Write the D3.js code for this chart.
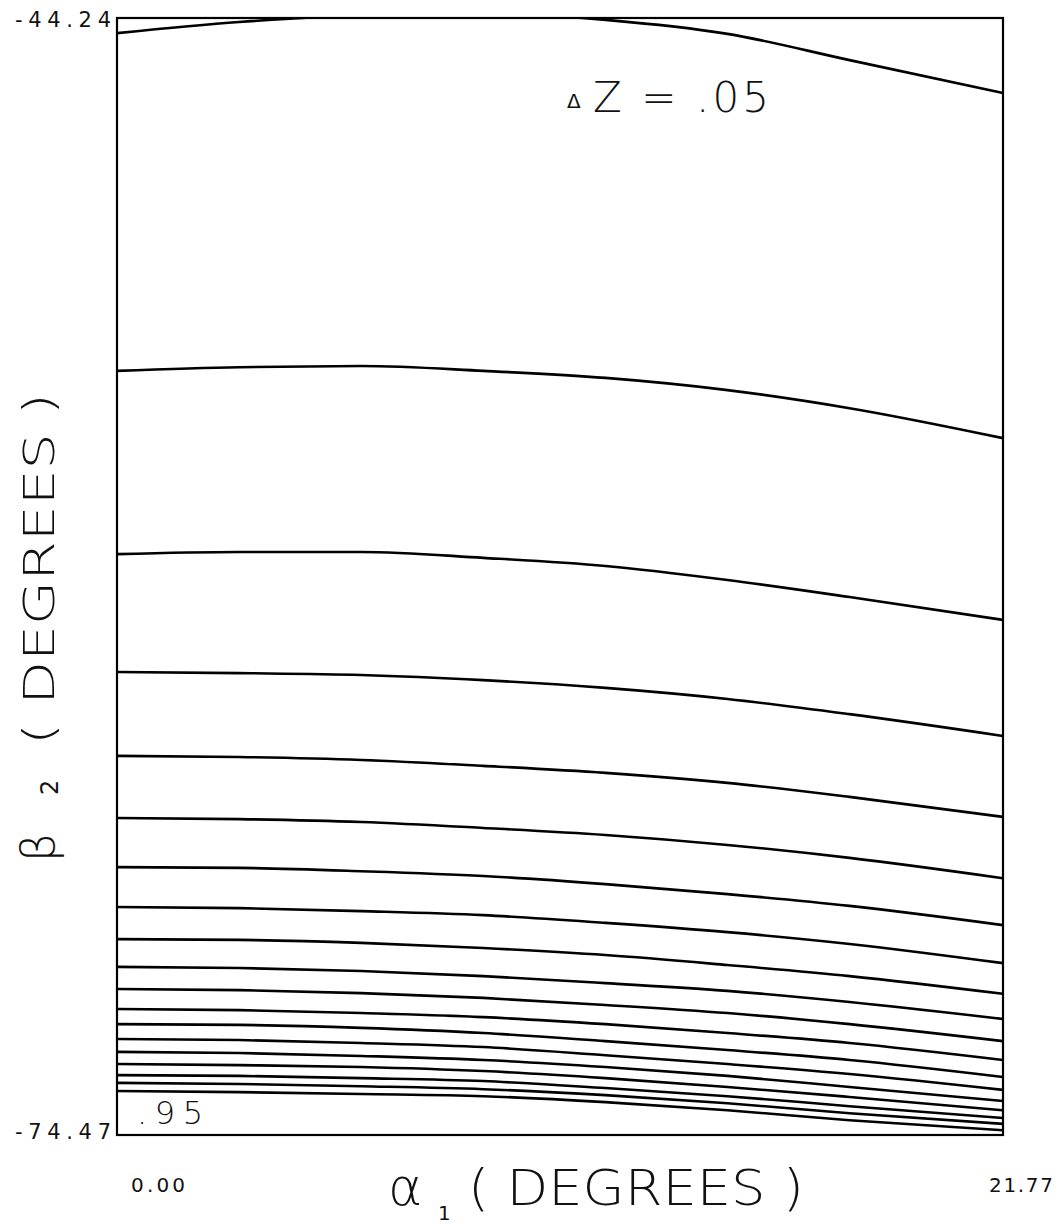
<!DOCTYPE html>
<html>
<head>
<meta charset="utf-8">
<script src="https://cdn.jsdelivr.net/npm/d3@7"></script>
<style>
  html, body { margin: 0; padding: 0; background: #fff; }
  svg { display: block; }
  text { font-family: "DejaVu Sans", "Roboto", sans-serif; fill: #111; }
</style>
</head>
<body>
<svg id="chart" width="1058" height="1226"></svg>
<script>
// ---- data ----
const alphaDeg = [0, 3, 6, 9, 12, 15, 18, 21.77];          // alpha_1 sample positions (degrees)
const xRange = [0, 21.77];
const yRange = [-74.47, -44.24];
const xTickLabels = ["0.00", "21.77"];
const yTickLabels = ["-44.24", "-74.47"];
const zLevels = [0.05, 0.10, 0.15, 0.20, 0.25, 0.30, 0.35, 0.40, 0.45, 0.50,
                 0.55, 0.60, 0.65, 0.70, 0.75, 0.80, 0.85, 0.90, 0.95];

// beta_2 (degrees) of each contour at the alphaDeg positions
const contour05 = [-44.65, -44.35, -44.16, -44.10, -44.29, -44.67, -45.38, -46.27];
const contour10 = [-53.79, -53.69, -53.66, -53.79, -53.98, -54.31, -54.80, -55.61];
const contour15 = [-58.75, -58.69, -58.69, -58.85, -59.07, -59.45, -59.91, -60.53];
const contour20 = [-61.94, -61.97, -62.02, -62.16, -62.37, -62.67, -63.08, -63.67];
const contour25 = [-64.21, -64.24, -64.32, -64.48, -64.67, -64.94, -65.32, -65.86];
const contour30 = [-65.89, -65.92, -66.00, -66.16, -66.35, -66.62, -66.97, -67.52];
const contour35 = [-67.22, -67.24, -67.33, -67.46, -67.68, -67.95, -68.27, -68.79];
const contour40 = [-68.30, -68.33, -68.41, -68.52, -68.73, -68.98, -69.30, -69.82];
const contour45 = [-69.17, -69.19, -69.27, -69.41, -69.60, -69.87, -70.17, -70.65];
const contour50 = [-69.92, -69.95, -70.03, -70.17, -70.36, -70.57, -70.87, -71.33];
const contour55 = [-70.52, -70.55, -70.63, -70.76, -70.95, -71.17, -71.47, -71.93];
const contour60 = [-71.06, -71.09, -71.17, -71.28, -71.47, -71.71, -71.98, -72.44];
const contour65 = [-71.47, -71.49, -71.57, -71.71, -71.93, -72.17, -72.44, -72.90];
const contour70 = [-71.87, -71.90, -71.98, -72.09, -72.31, -72.55, -72.82, -73.25];
const contour75 = [-72.22, -72.25, -72.33, -72.44, -72.63, -72.87, -73.17, -73.55];
const contour80 = [-72.55, -72.58, -72.63, -72.74, -72.93, -73.17, -73.44, -73.80];
const contour85 = [-72.85, -72.87, -72.93, -73.01, -73.20, -73.42, -73.69, -74.01];
const contour90 = [-73.06, -73.09, -73.15, -73.23, -73.39, -73.61, -73.88, -74.17];
const contour95 = [-73.28, -73.31, -73.36, -73.42, -73.58, -73.80, -74.07, -74.34];

const contourSeries = [contour05, contour10, contour15, contour20, contour25, contour30,
  contour35, contour40, contour45, contour50, contour55, contour60, contour65, contour70,
  contour75, contour80, contour85, contour90, contour95];
const contours = zLevels.map((z, i) => ({ z, pts: alphaDeg.map((a, j) => [a, contourSeries[i][j]]) }));

// ---- layout ----
const svg = d3.select("#chart");
const m = { left: 117, top: 18, right: 1058 - 1003, bottom: 1226 - 1135 };
const W = 1058 - m.left - m.right;
const H = 1226 - m.top - m.bottom;

const x = d3.scaleLinear().domain(xRange).range([m.left, m.left + W]);
const y = d3.scaleLinear().domain(yRange).range([m.top + H, m.top]);

svg.append("defs").append("clipPath").attr("id", "plotClip")
  .append("rect").attr("x", x(xRange[0])).attr("y", y(yRange[1]))
  .attr("width", W).attr("height", H);

const line = d3.line().x(d => x(d[0])).y(d => y(d[1])).curve(d3.curveMonotoneX);

svg.append("g").attr("clip-path", "url(#plotClip)")
  .selectAll("path").data(contours).join("path")
  .attr("d", d => line(d.pts))
  .attr("fill", "none").attr("stroke", "#000").attr("stroke-width", 2.6)
  .attr("stroke-linejoin", "round");

// frame
svg.append("rect")
  .attr("x", x(xRange[0])).attr("y", y(yRange[1]))
  .attr("width", x(xRange[1]) - x(xRange[0])).attr("height", y(yRange[0]) - y(yRange[1]))
  .attr("fill", "none").attr("stroke", "#000").attr("stroke-width", 2.2);

// y tick labels
const yTickVals = [yRange[1], yRange[0]];
svg.selectAll("text.ytick").data(yTickVals).join("text")
  .attr("class", "ytick")
  .attr("x", x(xRange[0]) - 6)
  .attr("y", (d, i) => y(d) + (i === 0 ? 9 : 4))
  .attr("text-anchor", "end")
  .attr("font-size", 21)
  .attr("textLength", 96).attr("lengthAdjust", "spacing")
  .text((d, i) => yTickLabels[i]);

// x tick labels
const xTickVals = [xRange[0], xRange[1]];
svg.selectAll("text.xtick").data(xTickVals).join("text")
  .attr("class", "xtick")
  .attr("x", (d, i) => i === 0 ? x(d) + 14 : x(d) - 14)
  .attr("y", y(yRange[0]) + 57)
  .attr("text-anchor", "start")
  .attr("font-size", 20)
  .attr("textLength", (d, i) => i === 0 ? 54 : 64).attr("lengthAdjust", "spacing")
  .text((d, i) => xTickLabels[i]);

// x axis title
const xt = y(yRange[0]) + 70;
svg.append("text").attr("x", 388).attr("y", xt).attr("font-size", 52)
  .attr("font-weight", 300).text("α");
svg.append("text").attr("x", 438).attr("y", xt + 15).attr("font-size", 20).text("1");
svg.append("text").attr("x", 468).attr("y", xt).attr("font-size", 50)
  .attr("font-weight", 300)
  .attr("textLength", 336).attr("lengthAdjust", "spacingAndGlyphs")
  .text("( DEGREES )");

// y axis title (rotated)
const yg = svg.append("g");
yg.append("text").attr("transform", "translate(54,862) rotate(-90)")
  .attr("font-size", 46).attr("font-weight", 300).text("β");
yg.append("text").attr("transform", "translate(58,795) rotate(-90)")
  .attr("font-size", 24).text("2");
yg.append("text").attr("transform", "translate(54,745) rotate(-90)")
  .attr("font-size", 42).attr("font-weight", 300)
  .attr("textLength", 352).attr("lengthAdjust", "spacingAndGlyphs")
  .text("( DEGREES )");

// annotation
svg.append("text").attr("x", 567).attr("y", 108).attr("font-size", 20).text("Δ");
svg.append("text").attr("x", 593).attr("y", 112).attr("font-size", 42).attr("font-weight", 300)
  .attr("textLength", 176).attr("lengthAdjust", "spacing")
  .text("Z = .05");

// lowest contour label
svg.append("text").attr("x", 137).attr("y", 1124).attr("font-size", 32).attr("font-weight", 300)
  .attr("textLength", 66).attr("lengthAdjust", "spacing")
  .text(".95");
</script>
</body>
</html>
